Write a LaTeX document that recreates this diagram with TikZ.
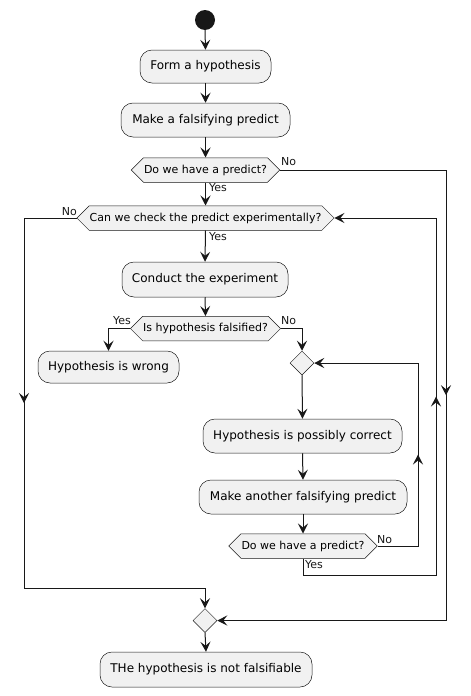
\documentclass[tikz,border=0pt]{standalone}
\usepackage{fontspec}
\setmainfont{DejaVu Sans}
\usepackage{tikz}
\usetikzlibrary{arrows.meta,shapes.geometric,shapes.symbols,decorations.markings}
\definecolor{ink}{HTML}{181818}
\definecolor{boxfill}{HTML}{F1F1F1}
\tikzset{
  act/.style={rounded corners=12pt, draw=ink, fill=boxfill, line width=0.5pt,
              inner sep=0pt, font=\fontsize{12}{14}\selectfont},           % activity box
  cond/.style={signal, signal to=west and east, signal pointer angle=90,
               draw=ink, fill=boxfill, line width=0.5pt, inner xsep=0.5pt,
               inner ysep=0pt, minimum height=24.5pt,
               font=\fontsize{11}{13}\selectfont},                         % decision
  merge/.style={diamond, draw=ink, fill=boxfill, line width=0.5pt,
                minimum size=24pt, inner sep=0pt},                         % merge point
  fl/.style={draw=ink, line width=1pt, -{Stealth[length=10pt, width=10pt, inset=4pt]}},
  ln/.style={draw=ink, line width=1pt},
  midarr/.style={postaction={decorate}, decoration={markings,
                 mark=at position 0.5 with {\arrow{Stealth[length=10pt, width=10pt, inset=4pt]}}}},
  lbl/.style={font=\fontsize{11}{13}\selectfont, text=ink, inner sep=1pt},
}

\begin{document}
\begin{tikzpicture}[x=1pt, y=-1pt]
  \useasboundingbox (0,0) rectangle (471,696);

  \node[circle, fill=ink, minimum size=20pt, inner sep=0pt] (start) at (205,20) {};
  \node[act, minimum width=131pt, minimum height=33pt] (form) at (205.5,66.5) {Form a hypothesis};
  \node[act, minimum width=169pt, minimum height=34pt] (make) at (205.5,120) {Make a falsifying predict};
  \node[cond] (q1) at (205.5,170) {Do we have a predict?};
  \node[cond] (check) at (205.5,218) {Can we check the predict experimentally?};
  \node[act, minimum width=166pt, minimum height=35pt] (conduct) at (205,279.5) {Conduct the experiment};
  \node[cond] (fals) at (205.5,328.5) {Is hypothesis falsified?};
  \node[act, minimum width=141pt, minimum height=32pt] (wrong) at (108.5,367) {Hypothesis is wrong};
  \node[merge] (m1) at (302,363) {};
  \node[act, minimum width=199pt, minimum height=34pt] (poss) at (302.5,436) {Hypothesis is possibly correct};
  \node[act, minimum width=208pt, minimum height=34pt] (another) at (303,497) {Make another falsifying predict};
  \node[cond] (q2) at (303,546) {Do we have a predict?};
  \node[merge] (m2) at (205,620.5) {};
  \node[act, minimum width=212pt, minimum height=35pt] (final) at (206,669.5) {THe hypothesis is not falsifiable};

  % corners of the loops
  \coordinate (r1) at (446,170);
  \coordinate (r2) at (446,620.5);
  \coordinate (l1) at (24,218);
  \coordinate (l2) at (24,588);
  \coordinate (l3) at (205,588);
  \coordinate (y1) at (303,575);
  \coordinate (y2) at (436,575);
  \coordinate (y3) at (436,218);
  \coordinate (n1) at (418,546);
  \coordinate (n2) at (418,363);

  \foreach \u/\v in {start/form,form/make,make/q1,q1/check,check/conduct,conduct/fals,
                     m1/poss,poss/another,another/q2,m2/final}
    \draw[fl] (\u.south) -- (\v.north);

  \draw[fl] (q1.east) -- (r1) -- (r2) -- (m2.east);
  \draw[ln, midarr] (r1) -- (r2);
  \draw[fl] (check.west) -- (l1) -- (l2) -- (l3) -- (m2.north);
  \draw[ln, midarr] (l1) -- (l2);
  \draw[fl] (fals.west) -| (wrong.north);
  \draw[fl] (fals.east) -| (m1.north);
  \draw[fl] (q2.east) -- (n1) -- (n2) -- (m1.east);
  \draw[ln, midarr] (n1) -- (n2);
  \draw[fl] (q2.south) -- (y1) -- (y2) -- (y3) -- (check.east);
  \draw[ln, midarr] (y2) -- (y3);

  \node[lbl, anchor=west] (t1) at (280,162) {No};
  \node[lbl, anchor=west] (t2) at (208,188) {Yes};
  \node[lbl, anchor=east] (t3) at (78,212) {No};
  \node[lbl, anchor=west] (t4) at (208,237) {Yes};
  \node[lbl, anchor=east] (t5) at (132,321) {Yes};
  \node[lbl, anchor=west] (t6) at (280,321) {No};
  \node[lbl, anchor=west] (t7) at (376,540) {No};
  \node[lbl, anchor=west] (t8) at (304,565) {Yes};
\end{tikzpicture}
\end{document}
